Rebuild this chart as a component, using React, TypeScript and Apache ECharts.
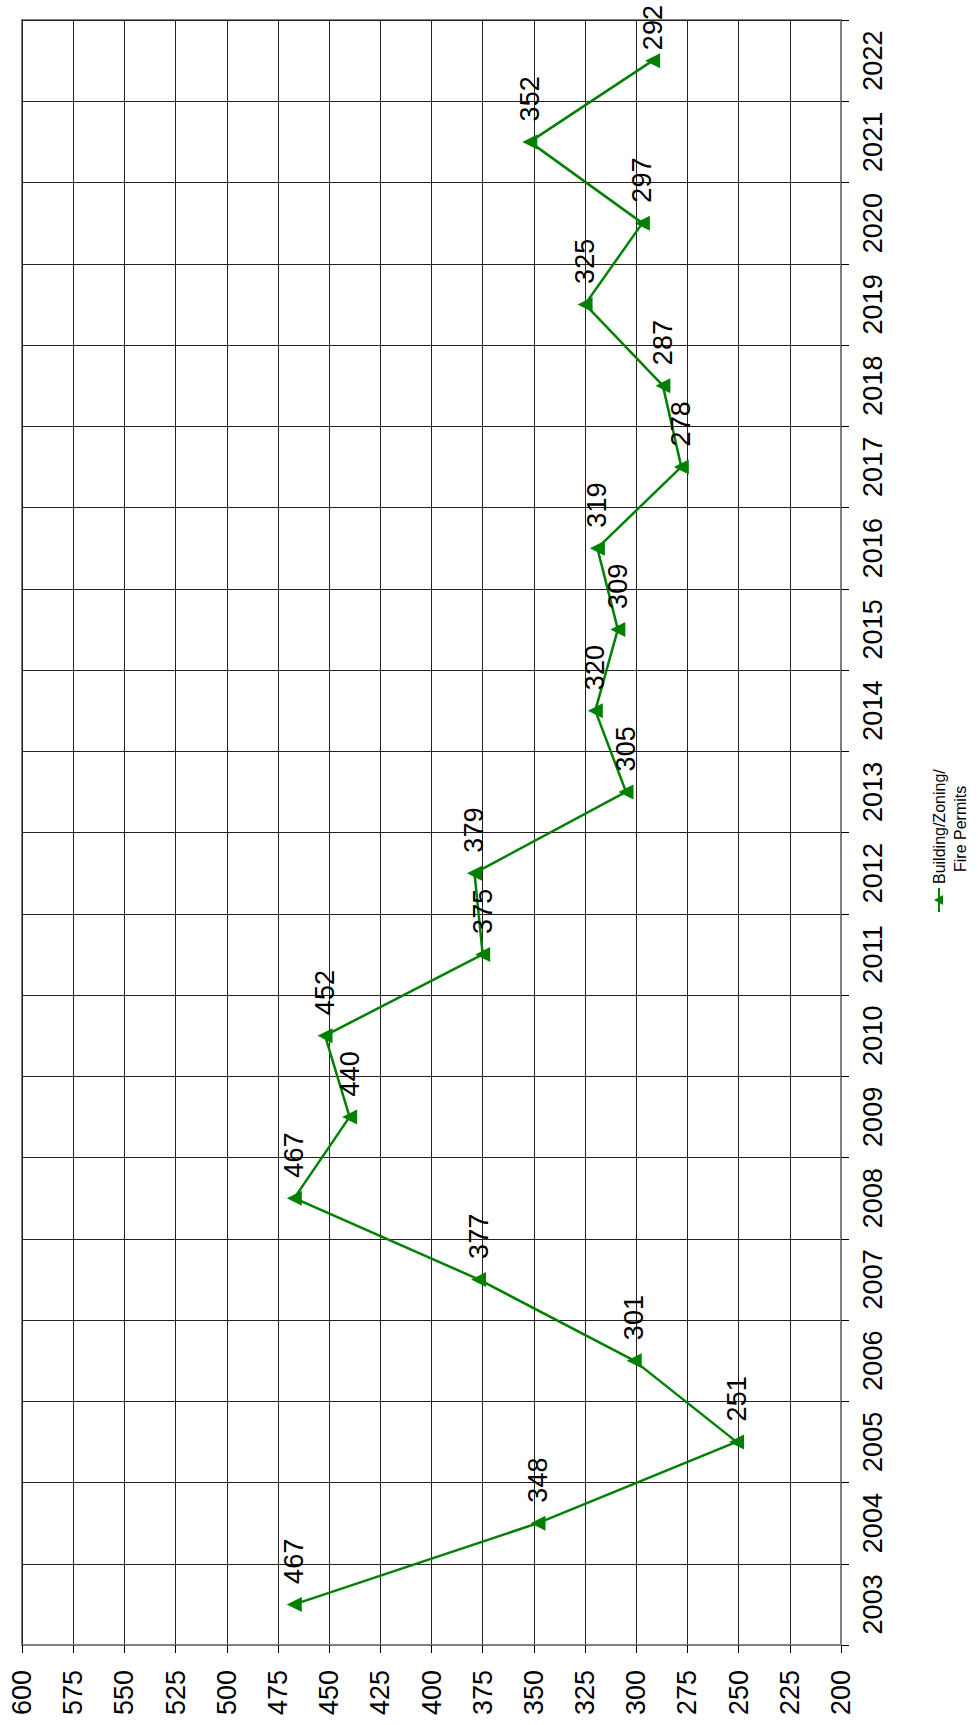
import React, { useEffect, useRef } from "react";
import * as echarts from "echarts";

const years = [
  "2003", "2004", "2005", "2006", "2007", "2008", "2009", "2010", "2011", "2012",
  "2013", "2014", "2015", "2016", "2017", "2018", "2019", "2020", "2021", "2022",
];
const permits = [467, 348, 251, 301, 377, 467, 440, 452, 375, 379, 305, 320, 309, 319, 278, 287, 325, 297, 352, 292];
const valueMin = 200;
const valueMax = 600;
const valueStep = 25;
const seriesName = ["Building/Zoning/", "Fire Permits"];

const FONT = "'Liberation Sans', Arial, sans-serif";
const GREEN = "#008000";

export default function App() {
  const ref = useRef<HTMLDivElement>(null);
  useEffect(() => {
    document.body.style.margin = "0";
    if (!ref.current) return;
    const chart = echarts.init(ref.current, null, { renderer: "svg" });
    const lx = 939;
    const ly = 912;
    // the last point's label is pulled closer so it stays inside the page
    const seriesData = permits.map((v, i) =>
      i === permits.length - 1 ? { value: v, label: { distance: 3 } } : v
    );
    chart.setOption({
      animation: false,
      backgroundColor: "#fff",
      grid: {
        left: 22,
        top: 20,
        width: 819,
        height: 1625,
        show: true,
        borderColor: "#808080",
        borderWidth: 2,
        containLabel: false,
      },
      xAxis: {
        type: "value",
        min: valueMin,
        max: valueMax,
        interval: valueStep,
        inverse: true,
        position: "bottom",
        axisLine: { show: true, onZero: false, lineStyle: { color: "#808080", width: 2 } },
        axisTick: { show: true, length: 8, lineStyle: { color: "#000", width: 1 } },
        axisLabel: { rotate: 90, margin: 25, fontSize: 27, color: "#000", fontFamily: FONT },
        splitLine: { show: true, lineStyle: { color: "#222", width: 1 } },
      },
      yAxis: {
        type: "category",
        data: years,
        position: "right",
        boundaryGap: true,
        axisLine: { show: true, lineStyle: { color: "#808080", width: 2 } },
        axisTick: { show: true, length: 8, interval: 0, lineStyle: { color: "#000", width: 1 } },
        axisLabel: { rotate: 90, margin: 18, interval: 0, fontSize: 27, color: "#000", fontFamily: FONT },
        splitLine: { show: true, interval: 0, lineStyle: { color: "#222", width: 1 } },
      },
      series: [
        {
          type: "line",
          name: seriesName.join(""),
          data: seriesData,
          symbol: "triangle",
          symbolSize: 15,
          symbolRotate: 90,
          lineStyle: { color: GREEN, width: 2.5 },
          itemStyle: { color: GREEN },
          label: {
            show: true,
            position: "top",
            rotate: 90,
            align: "left",
            verticalAlign: "middle",
            distance: 13,
            fontSize: 27,
            color: "#000",
            fontFamily: FONT,
          },
        },
      ],
      graphic: [
        {
          type: "group",
          x: lx,
          y: ly,
          rotation: Math.PI / 2,
          children: [
            { type: "line", shape: { x1: 0, y1: 0, x2: 24, y2: 0 }, style: { stroke: GREEN, lineWidth: 2 } },
            {
              type: "polygon",
              shape: { points: [[12, -5], [7, 4], [17, 4]] },
              style: { fill: GREEN },
            },
            {
              type: "text",
              x: 28,
              y: 0,
              style: { text: seriesName[0], font: `16px ${FONT}`, fill: "#000", align: "left", verticalAlign: "middle" },
            },
            {
              type: "text",
              x: 40,
              y: 21,
              style: { text: seriesName[1], font: `16px ${FONT}`, fill: "#000", align: "left", verticalAlign: "middle" },
            },
          ],
        },
      ],
    });
    return () => chart.dispose();
  }, []);
  return <div ref={ref} style={{ width: 978, height: 1725 }} />;
}
